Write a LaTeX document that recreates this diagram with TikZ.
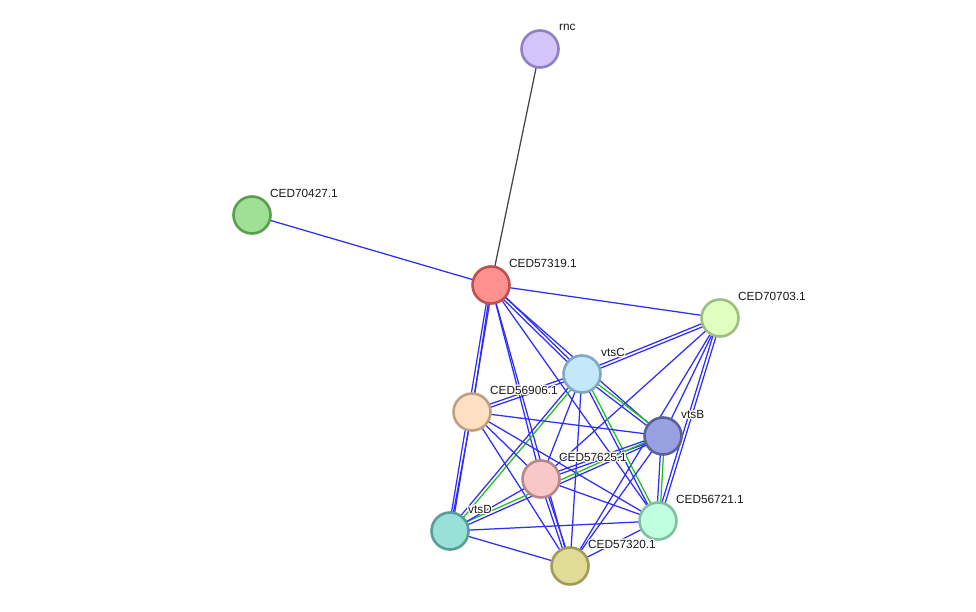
\documentclass[tikz,border=0pt]{standalone}
\usepackage{fontspec}
\setmainfont{Liberation Sans}
\usepackage[copies]{contour}
\contournumber{16}
\contourlength{1.2pt}
\usetikzlibrary{calc,backgrounds}
\pgfdeclarelayer{edges}
\pgfsetlayers{background,edges,main}
\definecolor{eb}{HTML}{2E2EF8}
\definecolor{eg}{HTML}{1FBF1F}
\definecolor{eg2}{HTML}{454545}
\tikzset{
  prot/.style={circle, minimum size=37pt, inner sep=0pt, line width=2.6pt},
  lab/.style={anchor=west, inner sep=0pt, font=\fontsize{11.8}{13}\selectfont, text=black!90},
  eblue/.style={draw=eb, line width=1.25pt},
  egreen/.style={draw=eg, line width=1.25pt},
  egray/.style={draw=eg2, line width=1.25pt},
}
\newcommand{\edS}[2]{\draw[eblue] (#1.center) -- (#2.center);}
\newcommand{\edD}[2]{%
  \draw[eblue] ($(#1.center)!1.6pt!90:(#2.center)$) -- ($(#2.center)!1.6pt!-90:(#1.center)$);
  \draw[eblue] ($(#1.center)!1.6pt!-90:(#2.center)$) -- ($(#2.center)!1.6pt!90:(#1.center)$);}
\newcommand{\edG}[2]{%
  \draw[egreen] ($(#1.center)!1.6pt!90:(#2.center)$) -- ($(#2.center)!1.6pt!-90:(#1.center)$);
  \draw[eblue] ($(#1.center)!1.6pt!-90:(#2.center)$) -- ($(#2.center)!1.6pt!90:(#1.center)$);}
\newcommand{\lbl}[1]{\contour{white}{#1}}
\begin{document}
\begin{tikzpicture}[x=1pt,y=-1pt]
\begin{pgfonlayer}{background}
\fill[white] (0,0) rectangle (976,612);
\end{pgfonlayer}
\useasboundingbox (0,0) rectangle (976,612);
% nodes
\node[prot, fill={rgb,255:red,212;green,196;blue,250}, draw={rgb,255:red,144;green,128;blue,196}] (R) at (540,49) {};
\node[prot, fill={rgb,255:red,160;green,224;blue,150}, draw={rgb,255:red,90;green,158;blue,80}] (K) at (252,215) {};
\node[prot, fill={rgb,255:red,255;green,144;blue,144}, draw={rgb,255:red,192;green,80;blue,80}] (A) at (491,285) {};
\node[prot, fill={rgb,255:red,226;green,255;blue,194}, draw={rgb,255:red,160;green,190;blue,128}] (B) at (720,318) {};
\node[prot, fill={rgb,255:red,194;green,232;blue,250}, draw={rgb,255:red,128;green,168;blue,192}] (C) at (582,374) {};
\node[prot, fill={rgb,255:red,255;green,224;blue,194}, draw={rgb,255:red,192;green,160;blue,128}] (D) at (472,412) {};
\node[prot, fill={rgb,255:red,152;green,160;blue,224}, draw={rgb,255:red,90;green,96;blue,152}] (E) at (663,436) {};
\node[prot, fill={rgb,255:red,248;green,200;blue,200}, draw={rgb,255:red,184;green,136;blue,136}] (F) at (541,479) {};
\node[prot, fill={rgb,255:red,152;green,224;blue,216}, draw={rgb,255:red,90;green,158;blue,152}] (G) at (450,531) {};
\node[prot, fill={rgb,255:red,192;green,255;blue,224}, draw={rgb,255:red,128;green,192;blue,160}] (H) at (658,521) {};
\node[prot, fill={rgb,255:red,224;green,220;blue,152}, draw={rgb,255:red,160;green,156;blue,88}] (I) at (570,566) {};
% labels
\node[lab] (lR) at ($(R)+(19,-21)$) {\lbl{rnc}};
\node[lab] (lK) at ($(K)+(18,-21)$) {\lbl{CED70427.1}};
\node[lab] (lA) at ($(A)+(18,-21)$) {\lbl{CED57319.1}};
\node[lab] (lB) at ($(B)+(18,-21)$) {\lbl{CED70703.1}};
\node[lab] (lC) at ($(C)+(19,-21)$) {\lbl{vtsC}};
\node[lab] (lD) at ($(D)+(18,-21)$) {\lbl{CED56906.1}};
\node[lab] (lE) at ($(E)+(18,-21)$) {\lbl{vtsB}};
\node[lab] (lF) at ($(F)+(18,-21)$) {\lbl{CED57625.1}};
\node[lab] (lG) at ($(G)+(18,-21)$) {\lbl{vtsD}};
\node[lab] (lH) at ($(H)+(18,-21)$) {\lbl{CED56721.1}};
\node[lab] (lI) at ($(I)+(18,-21)$) {\lbl{CED57320.1}};
% edges
\begin{pgfonlayer}{edges}
\draw[egray] (R.center) -- (A.center);
\edS{K}{A}
\edS{A}{B}
\edD{A}{C}
\edS{A}{E}
\edS{A}{D}
\edS{A}{F}
\edS{A}{I}
\edS{A}{H}
\edD{A}{G}
\edD{B}{C}
\edS{B}{E}
\edS{B}{F}
\edD{B}{H}
\edS{B}{I}
\edD{C}{D}
\edG{C}{E}
\edS{C}{F}
\edG{C}{G}
\edG{C}{H}
\edS{C}{I}
\edS{D}{E}
\edS{D}{F}
\edS{D}{H}
\edS{D}{I}
\edS{D}{G}
\edD{E}{F}
\edG{G}{E}
\edG{E}{H}
\edS{E}{I}
\edS{F}{H}
\edD{F}{I}
\edS{F}{G}
\edS{G}{H}
\edS{G}{I}
\edS{H}{I}
\end{pgfonlayer}
\end{tikzpicture}
\end{document}
